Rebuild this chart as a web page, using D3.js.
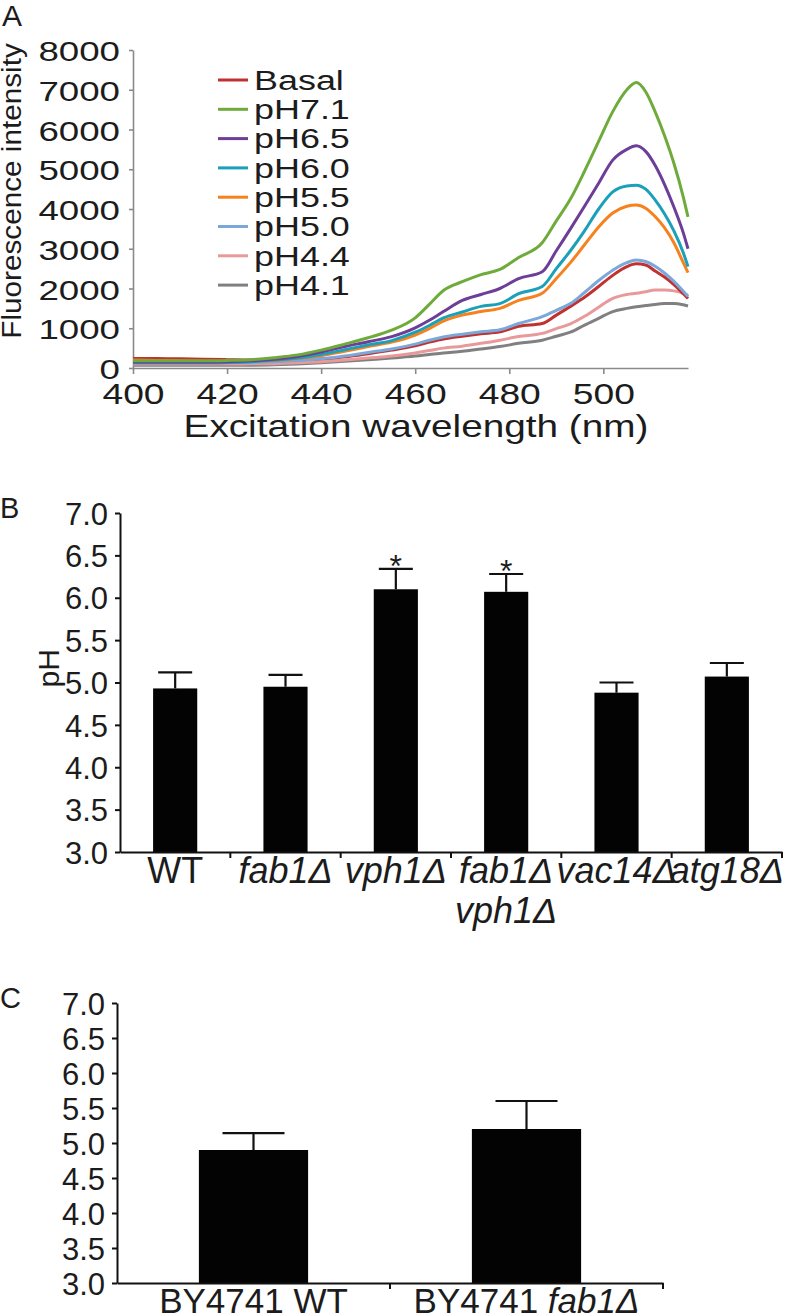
<!DOCTYPE html>
<html><head><meta charset="utf-8">
<script src="https://cdn.jsdelivr.net/npm/d3@7"></script>
<style>
body{margin:0;background:#fff}
svg{display:block}
text{font-family:"Liberation Sans",Arial,Helvetica,sans-serif;fill:#1c1c1c}
</style>
</head><body>
<svg id="fig" width="800" height="1313"></svg>
<script>
// ---------- Panel A data ----------
const wavelengths = [400,405,410,415,420,425,430,435,440,445,450,455,460,463,466,470,474,478,482,487,490,493,496,499,502,505,507,509,511,513,515,517,518];
const seriesNames = ["Basal","pH7.1","pH6.5","pH6.0","pH5.5","pH5.0","pH4.4","pH4.1"];
const basal = [240,240,230,220,210,200,200,210,230,280,360,450,560,650,730,800,860,910,1050,1120,1330,1550,1780,2050,2330,2550,2620,2590,2440,2290,2100,1870,1750];
const pH71  = [180,180,180,180,190,210,260,330,450,600,760,950,1260,1600,1950,2170,2350,2480,2780,3150,3700,4250,4950,5700,6450,7000,7180,6950,6450,5850,5150,4300,3800];
const pH65  = [150,150,150,150,160,180,220,290,400,540,660,790,1010,1200,1420,1700,1850,2000,2250,2420,2950,3500,4070,4650,5230,5500,5590,5450,5100,4620,4050,3400,3000];
const pH60  = [130,130,130,130,140,160,200,250,340,460,580,690,900,1070,1260,1410,1550,1620,1870,2050,2500,2950,3450,4000,4430,4580,4600,4500,4230,3880,3450,2900,2550];
const pH55  = [200,190,180,170,170,170,190,240,310,420,540,650,830,990,1180,1330,1420,1500,1700,1880,2250,2650,3100,3550,3900,4070,4100,4020,3810,3530,3150,2650,2400];
const pH50  = [130,130,130,130,135,140,160,190,230,300,390,480,600,700,780,850,910,960,1120,1290,1450,1620,1900,2200,2460,2650,2720,2680,2560,2390,2180,1930,1800];
const pH44  = [100,100,100,100,100,105,110,130,160,200,250,300,380,440,500,550,620,700,790,870,990,1110,1300,1530,1750,1850,1880,1920,1960,1960,1940,1880,1830];
const pH41  = [70,70,70,70,70,70,80,100,130,170,210,250,300,340,380,420,480,540,620,700,800,900,1080,1250,1420,1500,1540,1570,1600,1620,1625,1590,1560];
const seriesValues = [basal,pH71,pH65,pH60,pH55,pH50,pH44,pH41];
const seriesColors = ["#c0312f","#6fab3b","#6d3e97","#1aa0b8","#f5821f","#7ba7d9","#e89a9a","#808080"];
const xTicksA = [400,420,440,460,480,500];
const yTicksA = [0,1000,2000,3000,4000,5000,6000,7000,8000];

// ---------- Panel B data ----------
const strainsB = ["WT","fab1Δ","vph1Δ","fab1Δ vph1Δ","vac14Δ","atg18Δ"];
const strainLabelLinesB = [["WT"],["fab1Δ"],["vph1Δ"],["fab1Δ","vph1Δ"],["vac14Δ"],["atg18Δ"]];
const strainItalicB = [false,true,true,true,true,true];
const pHmeanB = [4.93,4.95,6.10,6.07,4.88,5.07];
const pHerrB  = [0.19,0.14,0.24,0.21,0.12,0.16];
const signifB = [false,false,true,true,false,false];
const yTicksPH = [3.0,3.5,4.0,4.5,5.0,5.5,6.0,6.5,7.0];

// ---------- Panel C data ----------
const strainsC = ["BY4741 WT","BY4741 fab1Δ"];
const strainLabelPartsC = [[["BY4741 WT",false]],[["BY4741 ",false],["fab1Δ",true]]];
const pHmeanC = [4.90,5.20];
const pHerrC  = [0.24,0.40];

const svg = d3.select("#fig");

function stretch(sel, sx){
  sel.each(function(){
    const L = this.getComputedTextLength();
    this.setAttribute("textLength", L*sx);
    this.setAttribute("lengthAdjust","spacingAndGlyphs");
  });
}

// ================= Panel A =================
const xA = d3.scaleLinear([400,518],[133,688]);
const yA = d3.scaleLinear([0,8000],[368,50]);
const gA = svg.append("g");

gA.append("text").attr("x",2).attr("y",26).attr("font-size",30).text("A");

const yAxA = gA.append("g").attr("transform",`translate(${xA.range()[0]},0)`)
  .call(d3.axisLeft(yA).tickValues(yTicksA).tickFormat(d3.format("d")).tickSize(4).tickSizeOuter(0).tickPadding(9));
yAxA.selectAll("text").attr("font-size",28).attr("dy","0.38em").style("font-family","Liberation Sans, Arial").attr("fill","#1c1c1c");
stretch(yAxA.selectAll("text"),1.31);
const xAxA = gA.append("g").attr("transform",`translate(0,${yA(0)})`)
  .call(d3.axisBottom(xA).tickValues(xTicksA).tickFormat(d3.format("d")).tickSize(6).tickSizeOuter(0).tickPadding(9));
xAxA.selectAll("text").attr("font-size",30).style("font-family","Liberation Sans, Arial").attr("fill","#1c1c1c");
stretch(xAxA.selectAll("text"),1.24);
[yAxA,xAxA].forEach(a=>{a.selectAll("path,line").attr("stroke","#8a8a8a").attr("stroke-width",1.6);});

const line = d3.line().x((d,i)=>xA(wavelengths[i])).y(d=>yA(d)).curve(d3.curveMonotoneX);
const order = [7,6,0,5,4,3,2,1];
gA.append("g").selectAll("path").data(order).join("path")
  .attr("d",k=>line(seriesValues[k])).attr("fill","none")
  .attr("stroke",k=>seriesColors[k]).attr("stroke-width",3).attr("stroke-linejoin","round");

// legend
const lg = gA.append("g");
seriesNames.forEach((n,i)=>{
  const yy = 80 + i*29.3;
  lg.append("line").attr("x1",218).attr("x2",248).attr("y1",yy).attr("y2",yy).attr("stroke",seriesColors[i]).attr("stroke-width",3);
  const t = lg.append("text").attr("x",254).attr("y",yy).attr("dy","0.36em").attr("font-size",27).text(n);
  stretch(t,1.33);
});

const xtA = gA.append("text").attr("x",416).attr("y",437).attr("text-anchor","middle").attr("font-size",32).text("Excitation wavelength (nm)");
stretch(xtA,1.21);
const ytA = gA.append("text").attr("transform","translate(21,191) rotate(-90)").attr("text-anchor","middle").attr("font-size",27).text("Fluorescence intensity");
stretch(ytA,1.1);

// ================= Bar panel helper =================
function barPanel(opts){
  const {cats, means, errs, x0, x1, y0, y1, capW, tag, tagY} = opts;
  const x = d3.scaleBand(cats,[x0,x1]).paddingInner(0.6).paddingOuter(0.3);
  const y = d3.scaleLinear([3,7],[y0,y1]);
  const g = svg.append("g");
  g.append("text").attr("x",0).attr("y",tagY).attr("font-size",29).text(tag);
  g.append("g").selectAll("rect").data(cats).join("rect")
    .attr("x",c=>x(c)).attr("width",x.bandwidth())
    .attr("y",(c,i)=>y(means[i])).attr("height",(c,i)=>y(3)-y(means[i]))
    .attr("fill","#030303");
  const eb = g.append("g").attr("stroke","#111").attr("stroke-width",2.2);
  cats.forEach((c,i)=>{
    const cx = x(c)+x.bandwidth()/2;
    eb.append("line").attr("x1",cx).attr("x2",cx).attr("y1",y(means[i])).attr("y2",y(means[i]+errs[i]));
    eb.append("line").attr("x1",cx-capW/2).attr("x2",cx+capW/2).attr("y1",y(means[i]+errs[i])).attr("y2",y(means[i]+errs[i]));
  });
  const ya = g.append("g").attr("transform",`translate(${x0},0)`)
    .call(d3.axisLeft(y).tickValues(yTicksPH).tickFormat(d3.format(".1f")).tickSize(5).tickSizeOuter(0).tickPadding(7));
  ya.selectAll("text").attr("font-size",31).attr("dy","0.36em").style("font-family","Liberation Sans, Arial").attr("fill","#1c1c1c");
  const xa = g.append("g").attr("transform",`translate(0,${y(3)})`)
    .call(d3.axisBottom(x).tickSize(0).tickFormat("").tickSizeOuter(0));
  xa.selectAll(".tick").remove();
  cats.forEach(c=>{
    const bx = x(c)+x.bandwidth()/2+x.step()/2;
    xa.append("line").attr("x1",bx).attr("x2",bx).attr("y1",0).attr("y2",6).attr("stroke","#111").attr("stroke-width",2);
  });
  [ya,xa].forEach(a=>{a.selectAll("path,line").attr("stroke","#111").attr("stroke-width",2);});
  return {g,x,y};
}

// ================= Panel B =================
const B = barPanel({cats:strainsB, means:pHmeanB, errs:pHerrB, x0:120, x1:782, y0:852, y1:513, capW:34, tag:"B", tagY:518});
strainsB.forEach((c,i)=>{
  const cx = B.x(c)+B.x.bandwidth()/2;
  strainLabelLinesB[i].forEach((ln,j)=>{
    B.g.append("text").attr("x",cx).attr("y",883+j*40).attr("text-anchor","middle")
      .attr("font-size",36).attr("font-style",strainItalicB[i]?"italic":"normal").text(ln);
  });
  if(signifB[i]){
    B.g.append("text").attr("x",cx).attr("y",B.y(pHmeanB[i]+pHerrB[i])+8).attr("text-anchor","middle")
      .attr("font-size",32).text("*");
  }
});
B.g.append("text").attr("transform",`translate(59,${(B.y(5.5)+B.y(5.0))/2+7}) rotate(-90)`).attr("text-anchor","middle").attr("font-size",30).text("pH");

// ================= Panel C =================
const C = barPanel({cats:strainsC, means:pHmeanC, errs:pHerrC, x0:117, x1:663, y0:1283, y1:1003, capW:62, tag:"C", tagY:1008});
strainsC.forEach((c,i)=>{
  const cx = C.x(c)+C.x.bandwidth()/2;
  const t = C.g.append("text").attr("x",cx).attr("y",1313).attr("text-anchor","middle").attr("font-size",35);
  strainLabelPartsC[i].forEach(([s,it])=>{
    t.append("tspan").attr("font-style",it?"italic":"normal").text(s);
  });
});
</script>
</body></html>
